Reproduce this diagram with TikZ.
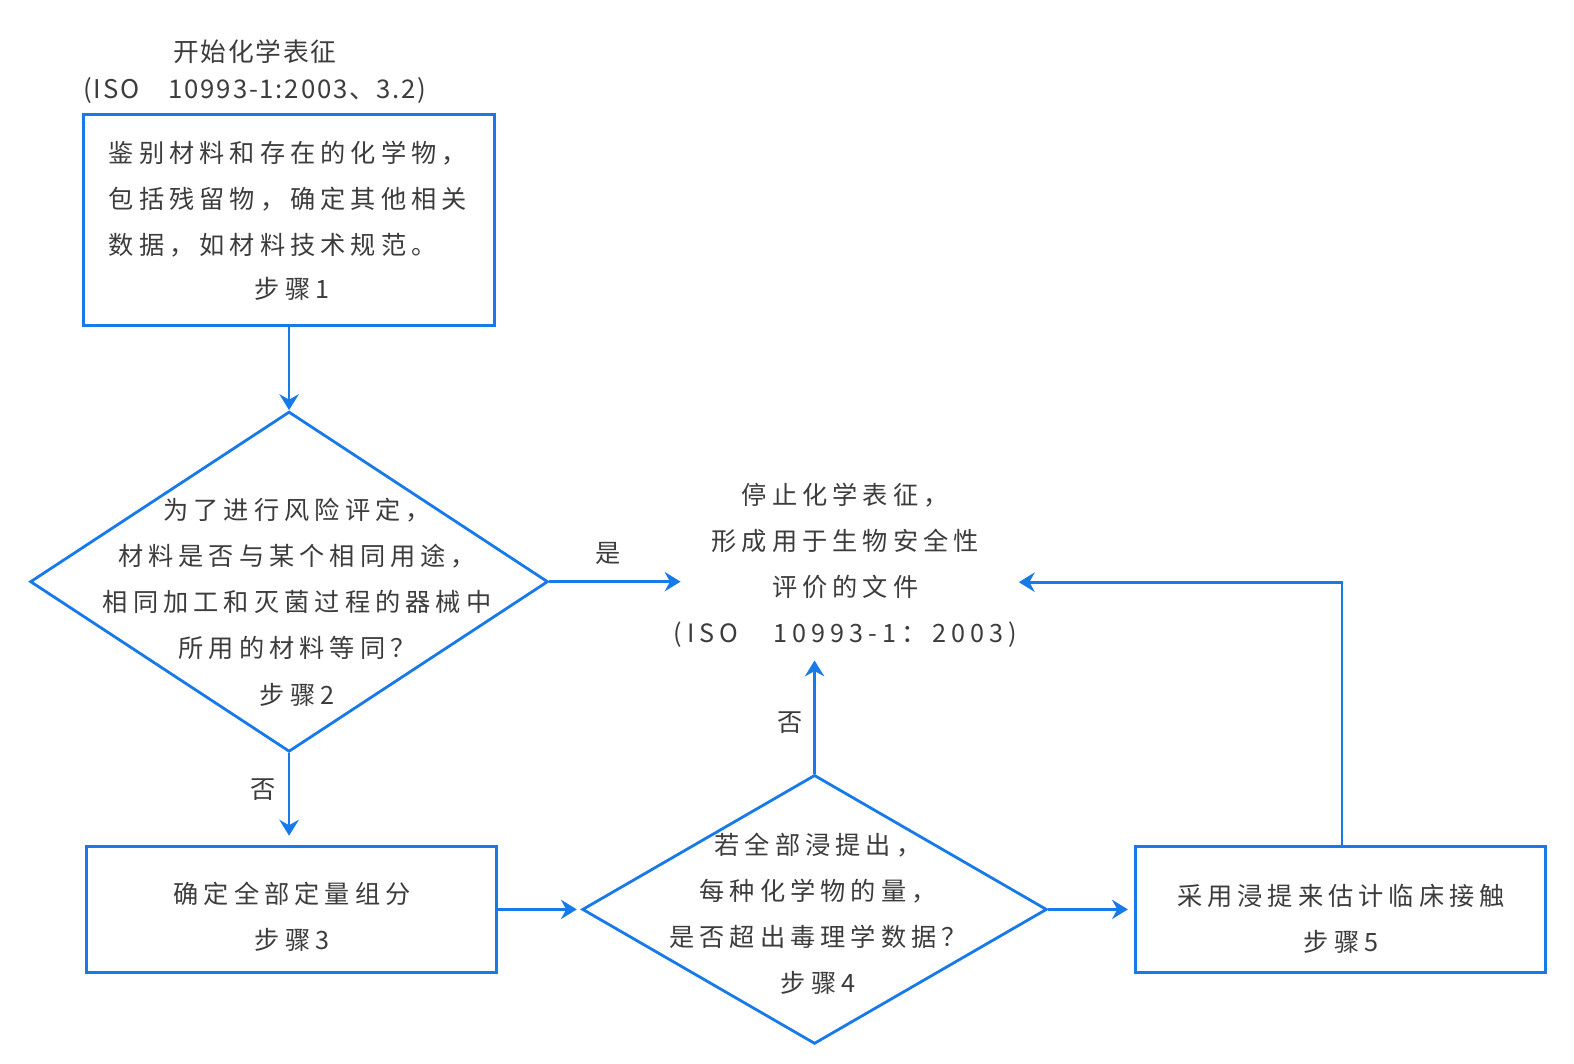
\documentclass[tikz,border=0pt]{standalone}
\usepackage{fontspec}
\setmainfont{Noto Sans CJK SC}[LetterSpace=20]
\newfontfamily\titlefont{Noto Sans CJK SC}[LetterSpace=7]
\usetikzlibrary{shapes.geometric,arrows.meta}
\definecolor{flowblue}{RGB}{24,122,232}
\definecolor{txtgray}{RGB}{60,60,60}
\tikzset{
  boxnode/.style={draw=flowblue, line width=1.6pt, rectangle, inner sep=0pt},
  dianode/.style={draw=flowblue, line width=1.6pt, diamond, inner sep=0pt},
  txt/.style={text=txtgray, font=\fontsize{14.3}{26.1}\selectfont, align=center, inner sep=0pt},
  ttl/.style={text=txtgray, font=\titlefont\fontsize{14.6}{21}\selectfont, align=center, inner sep=0pt},
  arr/.style={draw=flowblue, line width=1.6pt, -{Stealth[length=9pt,width=11pt,inset=3pt]}},
}
\begin{document}
\begin{tikzpicture}[x=0.02cm,y=-0.02cm]
\useasboundingbox (0,0) rectangle (1568.1,1060);
% title
\node[ttl] (title) at (254,71) {开始化学表征\\(ISO　10993-1:2003、3.2)};
% box 1
\node[boxnode, minimum width=8.2cm, minimum height=4.2cm] (b1) at (288,219) {};
\node[txt, align=left, anchor=west] (t1) at (108,198) {鉴别材料和存在的化学物，\\包括残留物，确定其他相关\\数据，如材料技术规范。};
\node[txt] (s1) at (291,288) {步骤1};
% diamond 2
\node[dianode, minimum width=10.32cm, minimum height=6.78cm] (d2) at (288,579.5) {};
\node[txt] (t2) at (296,600) {为了进行风险评定，\\材料是否与某个相同用途，\\相同加工和灭菌过程的器械中\\所用的材料等同？\\步骤2};
% stop text
\node[txt] (st) at (842,563) {停止化学表征，\\形成用于生物安全性\\评价的文件\\(ISO　10993-1：2003)};
% box 3
\node[boxnode, minimum width=8.18cm, minimum height=2.52cm] (b3) at (290.5,906) {};
\node[txt] (t3) at (291,913) {确定全部定量组分\\步骤3};
% diamond 4
\node[dianode, minimum width=9.26cm, minimum height=5.36cm] (d4) at (811.5,906) {};
\node[txt] (t4) at (815,910) {若全部浸提出，\\每种化学物的量，\\是否超出毒理学数据？\\步骤4};
% box 5
\node[boxnode, minimum width=8.18cm, minimum height=2.52cm] (b5) at (1335.5,906) {};
\node[txt] (t5) at (1336,915) {采用浸提来估计临床接触\\步骤5};
% coordinates
\coordinate (yesend) at (678,579.5);
\coordinate (upend) at (811.5,658);
\coordinate (corner) at (1337,580);
\coordinate (retend) at (1015,580);
% connectors
\draw[arr] (b1.south) -- (d2.north);
\draw[arr] (d2.east) -- node[txt, above=9pt, pos=0.45] (yes) {是} (yesend);
\draw[arr, shorten >=0.18cm] (d2.south) -- node[txt, left=7pt, pos=0.4] (no1) {否} (d2.south |- b3.north);
\draw[arr, shorten >=0.08cm] (b3.east) -- (d4.west);
\draw[arr] (d4.north) -- node[txt, left=6pt, pos=0.45] (no2) {否} (upend);
\draw[arr, shorten >=0.12cm] (d4.east) -- (b5.west);
\draw[arr] (b5.north -| corner) -- (corner) -- (retend);
\end{tikzpicture}
\end{document}
